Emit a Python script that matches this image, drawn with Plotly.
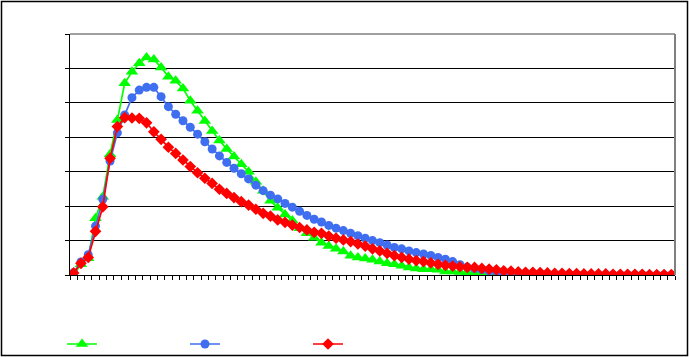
import plotly.graph_objects as go

# category positions (83 unlabeled categories)
categories = list(range(83))

green_vals = [0.00, 0.31, 0.49, 1.65, 2.27, 3.51, 4.50, 5.57, 5.90, 6.15,
              6.32, 6.26, 6.03, 5.76, 5.64, 5.42, 5.06, 4.77, 4.47, 4.18,
              3.91, 3.66, 3.44, 3.22, 3.00, 2.71, 2.45, 2.16, 1.95, 1.76,
              1.58, 1.36, 1.21, 1.08, 0.94, 0.84, 0.76, 0.68, 0.56, 0.51,
              0.48, 0.44, 0.39, 0.34, 0.31, 0.27, 0.22, 0.19, 0.17, 0.17,
              0.15, 0.10, 0.10, 0.09, 0.08, 0.06, 0.05, 0.04, 0.03, 0.03,
              0.02, 0.02, 0.01, 0.00, 0.00, 0.00, 0.00, 0.00, 0.00, 0.00,
              0.00, 0.00, 0.00, 0.00, 0.00, 0.00, 0.00, 0.00, 0.00, 0.00,
              0.00, 0.00, 0.00]

blue_vals = [0.07, 0.38, 0.59, 1.42, 2.20, 3.31, 4.13, 4.65, 5.15, 5.37,
             5.45, 5.45, 5.18, 4.89, 4.67, 4.48, 4.29, 4.09, 3.87, 3.66,
             3.46, 3.27, 3.10, 2.94, 2.79, 2.61, 2.45, 2.32, 2.21, 2.08,
             1.97, 1.85, 1.73, 1.62, 1.54, 1.44, 1.36, 1.29, 1.21, 1.14,
             1.07, 1.00, 0.94, 0.87, 0.80, 0.76, 0.70, 0.65, 0.61, 0.57,
             0.51, 0.46, 0.39, 0.30, 0.23, 0.19, 0.16, 0.12, 0.09, 0.07,
             0.05, 0.04, 0.03, 0.02, 0.02, 0.01, 0.01, 0.00, 0.00, 0.00,
             0.00, 0.00, 0.00, 0.00, 0.00, 0.00, 0.00, 0.00, 0.00, 0.00,
             0.00, 0.00, 0.00]

red_vals = [0.06, 0.34, 0.51, 1.27, 1.98, 3.39, 4.31, 4.57, 4.56, 4.55,
            4.42, 4.16, 3.94, 3.71, 3.53, 3.34, 3.15, 2.97, 2.81, 2.66,
            2.49, 2.37, 2.25, 2.13, 2.03, 1.91, 1.79, 1.71, 1.60, 1.53,
            1.45, 1.38, 1.31, 1.24, 1.21, 1.13, 1.07, 1.02, 0.97, 0.90,
            0.84, 0.76, 0.70, 0.63, 0.56, 0.51, 0.46, 0.42, 0.39, 0.35,
            0.31, 0.28, 0.26, 0.24, 0.22, 0.22, 0.19, 0.17, 0.15, 0.12,
            0.11, 0.09, 0.08, 0.08, 0.07, 0.06, 0.05, 0.05, 0.04, 0.04,
            0.03, 0.03, 0.03, 0.03, 0.02, 0.02, 0.02, 0.02, 0.02, 0.01,
            0.01, 0.01, 0.01]

y_ticks = [0, 1, 2, 3, 4, 5, 6, 7]

W, H = 689, 357
L, R, T, B = 70, 14, 34, 82
PW, PH = W - L - R, H - T - B

fig = go.Figure()
series = [
    ("", green_vals, "#00FF00", "triangle-up", 11),
    ("", blue_vals, "#3F6FF0", "circle", 9),
    ("", red_vals, "#FF0000", "diamond", 9),
]
for name, vals, col, sym, sz in series:
    fig.add_trace(go.Scatter(
        x=categories, y=vals, name=name, mode="lines+markers",
        line=dict(color=col, width=1.7),
        marker=dict(symbol=sym, size=sz, color=col),
    ))

def px_x(p):
    return (p - L) / PW

def px_y(p):
    return (H - B - p) / PH

fig.update_layout(
    width=W, height=H,
    margin=dict(l=L, r=R, t=T, b=B, pad=0, autoexpand=False),
    paper_bgcolor="white", plot_bgcolor="white",
    showlegend=True,
    legend=dict(orientation="h", x=px_x(62), y=px_y(344), xanchor="left",
                yanchor="middle", entrywidth=78, entrywidthmode="pixels",
                font=dict(size=10, family="Liberation Sans"),
                bgcolor="rgba(0,0,0,0)"),
    xaxis=dict(range=[-0.5, len(categories) - 0.5], showgrid=False,
               zeroline=False, showticklabels=False, ticks="outside",
               ticklen=4, tickcolor="black", tick0=-0.5, dtick=1,
               showline=True, linecolor="black", linewidth=1),
    yaxis=dict(range=[0, 7], tickvals=y_ticks, showticklabels=False,
               ticks="outside", ticklen=4, tickcolor="black",
               showgrid=True, gridcolor="black", gridwidth=1,
               zeroline=False, showline=True, linecolor="black", linewidth=1),
    shapes=[
        dict(type="line", xref="paper", yref="paper", x0=0, x1=1, y0=1, y1=1,
             line=dict(color="#808080", width=1.5), layer="above"),
        dict(type="line", xref="paper", yref="paper", x0=1, x1=1, y0=0, y1=1,
             line=dict(color="#808080", width=2), layer="above"),
        dict(type="rect", xref="paper", yref="paper",
             x0=px_x(1.5), x1=px_x(687.5), y0=px_y(355.5), y1=px_y(1.5),
             line=dict(color="black", width=1.5), layer="above"),
    ],
)

fig.write_html("out.html", config={"displayModeBar": False},
               post_script="document.body.style.margin='0';document.body.style.overflow='hidden';")
